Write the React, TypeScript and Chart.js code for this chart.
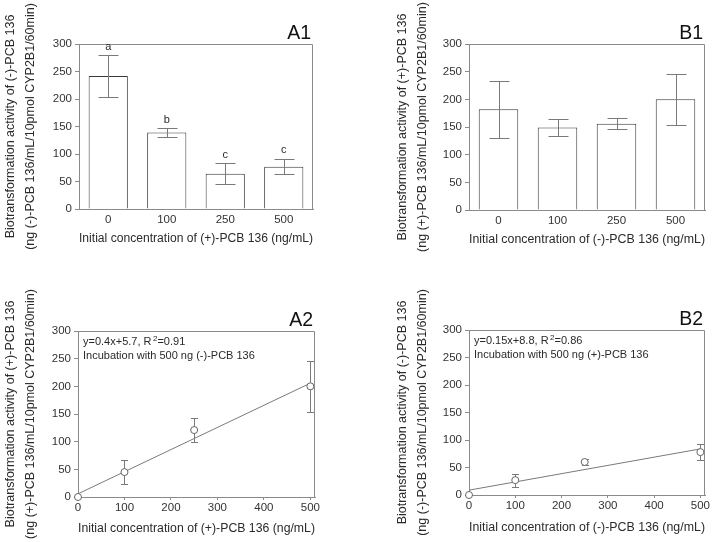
import React, { useEffect, useRef } from "react";
import { Chart, registerables } from "chart.js";

Chart.register(...registerables);

const FONT = "'Liberation Sans', Arial, Helvetica, sans-serif";
Chart.defaults.font.family = FONT;
Chart.defaults.color = "#333";

// ---------- data ----------
const barCategories = ["0", "100", "250", "500"];
const a1Values = [242, 139, 64, 77];
const a1Errors = [38, 8, 19, 14];
const a1Letters = ["a", "b", "c", "c"];
const b1Values = [182, 149, 156, 200];
const b1Errors = [51, 16, 10, 46];

const concentrations = [0, 100, 250, 500];
const a2Values = [0, 45, 121, 200];
const a2Errors = [0, 22, 22, 46];
const b2Values = [0, 27, 60, 78];
const b2Errors = [0, 12, 5, 14];
const fitX = [0, 500];
const a2FitY = [5.7, 205.7];
const b2FitY = [8.8, 83.8];

const xTickValues = [0, 100, 200, 300, 400, 500];
const yTickValues = [0, 50, 100, 150, 200, 250, 300];

const a2Equation = ["y=0.4x+5.7, R", "2", "=0.91"];
const a2Note = "Incubation with 500 ng (-)-PCB 136";
const b2Equation = ["y=0.15x+8.8, R", "2", "=0.86"];
const b2Note = "Incubation with 500 ng (+)-PCB 136";

const a1YTitle = ["Biotransformation activity of (-)-PCB 136", "(ng (-)-PCB 136/mL/10pmol CYP2B1/60min)"];
const b1YTitle = ["Biotransformation activity of (+)-PCB 136", "(ng (+)-PCB 136/mL/10pmol CYP2B1/60min)"];
const a2YTitle = ["Biotransformation activity of (+)-PCB 136", "(ng (+)-PCB 136/mL/10pmol CYP2B1/60min)"];
const b2YTitle = ["Biotransformation activity of (-)-PCB 136", "(ng (-)-PCB 136/mL/10pmol CYP2B1/60min)"];
const a1XTitle = "Initial concentration of (+)-PCB 136 (ng/mL)";
const b1XTitle = "Initial concentration of (-)-PCB 136 (ng/mL)";
const a2XTitle = "Initial concentration of (+)-PCB 136 (ng/mL)";
const b2XTitle = "Initial concentration of (-)-PCB 136 (ng/mL)";

// ---------- styling ----------
const AXIS = "#8a8a8a";
const ERR = "#7a7a7a";
const BAR_EDGE = "#3a3a3a";
const TEXT = "#2a2a2a";

type Lay = {
  yWidth: number;
  xHeight: number;
  padTop: number;
  padRight: number;
  yTitlePad: number;
  xTitlePad: number;
};

type Decor = {
  label: string;
  values: number[];
  errors: number[];
  cap: number;
  errorsBehind: boolean;
  letters?: string[];
  equation?: string[];
  note?: string;
};

function decorPlugin(d: Decor) {
  const drawErrors = (chart: any) => {
    const ctx = chart.ctx;
    const y = chart.scales.y;
    const meta = chart.getDatasetMeta(d.errorsBehind ? 1 : 0);
    ctx.save();
    ctx.strokeStyle = ERR;
    ctx.lineWidth = 1;
    d.values.forEach((v, i) => {
      const e = d.errors[i];
      if (!e) return;
      const px = Math.round(meta.data[i].x) + 0.5;
      const yt = Math.round(y.getPixelForValue(v + e)) + 0.5;
      const yb = Math.round(y.getPixelForValue(v - e)) + 0.5;
      ctx.beginPath();
      ctx.moveTo(px, yt);
      ctx.lineTo(px, yb);
      ctx.moveTo(px - d.cap, yt);
      ctx.lineTo(px + d.cap, yt);
      ctx.moveTo(px - d.cap, yb);
      ctx.lineTo(px + d.cap, yb);
      ctx.stroke();
    });
    ctx.restore();
  };
  return {
    id: "decor",
    beforeDatasetsDraw(chart: any) {
      if (d.errorsBehind) drawErrors(chart);
    },
    afterDatasetsDraw(chart: any) {
      if (!d.errorsBehind) drawErrors(chart);
    },
    afterDraw(chart: any) {
      const ctx = chart.ctx;
      const a = chart.chartArea;
      const y = chart.scales.y;
      ctx.save();
      // frame top & right
      ctx.strokeStyle = AXIS;
      ctx.lineWidth = 1;
      const l = Math.round(a.left) + 0.5;
      const t = Math.round(a.top) + 0.5;
      const r = Math.round(a.right) - 0.5;
      const b = Math.round(a.bottom) + 0.5;
      ctx.beginPath();
      ctx.moveTo(l, t);
      ctx.lineTo(r, t);
      ctx.lineTo(r, b);
      ctx.stroke();
      // panel label
      ctx.fillStyle = "#111";
      ctx.font = `19.5px ${FONT}`;
      ctx.textAlign = "right";
      ctx.textBaseline = "alphabetic";
      ctx.fillText(d.label, a.right - 2, a.top - 5);
      // letters
      if (d.letters) {
        const meta = chart.getDatasetMeta(0);
        ctx.font = `11px ${FONT}`;
        ctx.fillStyle = TEXT;
        ctx.textAlign = "center";
        ctx.textBaseline = "bottom";
        d.letters.forEach((s, i) => {
          const py = y.getPixelForValue(d.values[i] + d.errors[i]);
          ctx.fillText(s, meta.data[i].x, py - 3);
        });
      }
      // equation + note
      if (d.equation) {
        ctx.fillStyle = TEXT;
        ctx.textAlign = "left";
        ctx.textBaseline = "middle";
        let x = a.left + 5;
        const y1 = a.top + 11;
        ctx.font = `11px ${FONT}`;
        ctx.fillText(d.equation[0], x, y1);
        x += ctx.measureText(d.equation[0]).width + 1.5;
        ctx.font = `8px ${FONT}`;
        ctx.fillText(d.equation[1], x, y1 - 3.5);
        x += ctx.measureText(d.equation[1]).width;
        ctx.font = `11px ${FONT}`;
        ctx.fillText(d.equation[2], x, y1);
        if (d.note) ctx.fillText(d.note, a.left + 5, a.top + 25);
      }
      ctx.restore();
    },
  };
}

function yScale(title: string[], lay: Lay) {
  return {
    min: 0,
    max: 300,
    afterBuildTicks: (s: any) => {
      s.ticks = yTickValues.map((value) => ({ value }));
    },
    ticks: { padding: 3, color: "#333", font: { size: 11.5 } },
    grid: { display: true, drawOnChartArea: false, drawTicks: true, tickLength: 4, tickColor: AXIS },
    border: { display: true, color: AXIS, width: 1 },
    title: {
      display: true,
      text: title,
      color: TEXT,
      font: { size: 12.5, lineHeight: 1.6 },
      padding: { top: lay.yTitlePad, bottom: 0 },
    },
    afterFit: (s: any) => {
      s.width = lay.yWidth;
    },
  };
}

function xTitle(text: string, lay: Lay) {
  return {
    display: true,
    text,
    color: TEXT,
    font: { size: 12.5 },
    padding: { top: 0, bottom: lay.xTitlePad },
  };
}

function baseOptions(lay: Lay) {
  return {
    responsive: false,
    animation: false as const,
    layout: { padding: { top: lay.padTop, right: lay.padRight, left: 0, bottom: 0 } },
    plugins: { legend: { display: false }, tooltip: { enabled: false } },
  };
}

function barConfig(values: number[], errors: number[], label: string, yT: string[], xT: string, lay: Lay, letters?: string[]) {
  return {
    type: "bar",
    data: {
      labels: barCategories,
      datasets: [
        {
          data: values,
          backgroundColor: "#ffffff",
          borderColor: BAR_EDGE,
          borderWidth: 1,
          barPercentage: 0.67,
          categoryPercentage: 1,
        },
      ],
    },
    options: {
      ...baseOptions(lay),
      scales: {
        x: {
          ticks: { padding: 1, color: "#333", font: { size: 11.5 } },
          grid: { display: true, drawOnChartArea: false, drawTicks: true, tickLength: 3, tickColor: "rgba(0,0,0,0)" },
          border: { display: true, color: AXIS, width: 1 },
          title: xTitle(xT, lay),
          afterFit: (s: any) => {
            s.height = lay.xHeight;
          },
        },
        y: yScale(yT, lay),
      },
    },
    plugins: [decorPlugin({ label, values, errors, cap: 10, errorsBehind: false, letters })],
  };
}

function scatterConfig(values: number[], errors: number[], fitY: number[], label: string, yT: string[], xT: string, lay: Lay, equation: string[], note: string) {
  return {
    type: "scatter",
    data: {
      datasets: [
        {
          type: "line",
          data: fitX.map((x, i) => ({ x, y: fitY[i] })),
          borderColor: "#7a7a7a",
          borderWidth: 1,
          pointRadius: 0,
          fill: false,
          order: 2,
          clip: false,
        },
        {
          type: "scatter",
          data: concentrations.map((x, i) => ({ x, y: values[i] })),
          pointRadius: 3.5,
          pointStyle: "circle",
          borderColor: "#666",
          backgroundColor: "#ffffff",
          borderWidth: 1,
          order: 1,
          clip: false,
        },
      ],
    },
    options: {
      ...baseOptions(lay),
      scales: {
        x: {
          type: "linear",
          min: 0,
          max: 510,
          afterBuildTicks: (s: any) => {
            s.ticks = xTickValues.map((value) => ({ value }));
          },
          ticks: { padding: 1, color: "#333", font: { size: 11.5 } },
          grid: { display: true, drawOnChartArea: false, drawTicks: true, tickLength: 3, tickColor: AXIS },
          border: { display: true, color: AXIS, width: 1 },
          title: xTitle(xT, lay),
          afterFit: (s: any) => {
            s.height = lay.xHeight;
          },
        },
        y: yScale(yT, lay),
      },
    },
    plugins: [decorPlugin({ label, values, errors, cap: 3.5, errorsBehind: true, equation, note })],
  };
}

function Panel({ config, left, top }: { config: any; left: number; top: number }) {
  const ref = useRef<HTMLCanvasElement | null>(null);
  useEffect(() => {
    if (!ref.current) return;
    const chart = new Chart(ref.current, config);
    return () => chart.destroy();
  }, [config]);
  return (
    <canvas
      ref={ref}
      width={356}
      height={271}
      style={{ position: "absolute", left, top, width: 356, height: 271 }}
    />
  );
}

const layA1: Lay = { yWidth: 79, xHeight: 62, padTop: 44, padRight: 43, yTitlePad: 1, xTitlePad: 25 };
const layB1: Lay = { yWidth: 113, xHeight: 61, padTop: 44, padRight: 7, yTitlePad: 37, xTitlePad: 24 };
const layA2: Lay = { yWidth: 78, xHeight: 45, padTop: 60, padRight: 41, yTitlePad: 1, xTitlePad: 5.5 };
const layB2: Lay = { yWidth: 113, xHeight: 47, padTop: 59, padRight: 7, yTitlePad: 37, xTitlePad: 7 };

const cfgA1 = barConfig(a1Values, a1Errors, "A1", a1YTitle, a1XTitle, layA1, a1Letters);
const cfgB1 = barConfig(b1Values, b1Errors, "B1", b1YTitle, b1XTitle, layB1);
const cfgA2 = scatterConfig(a2Values, a2Errors, a2FitY, "A2", a2YTitle, a2XTitle, layA2, a2Equation, a2Note);
const cfgB2 = scatterConfig(b2Values, b2Errors, b2FitY, "B2", b2YTitle, b2XTitle, layB2, b2Equation, b2Note);

export default function App() {
  return (
    <div style={{ position: "fixed", left: 0, top: 0, width: 712, height: 542, background: "#fff" }}>
      <Panel config={cfgA1} left={0} top={0} />
      <Panel config={cfgB1} left={356} top={0} />
      <Panel config={cfgA2} left={0} top={271} />
      <Panel config={cfgB2} left={356} top={271} />
    </div>
  );
}
